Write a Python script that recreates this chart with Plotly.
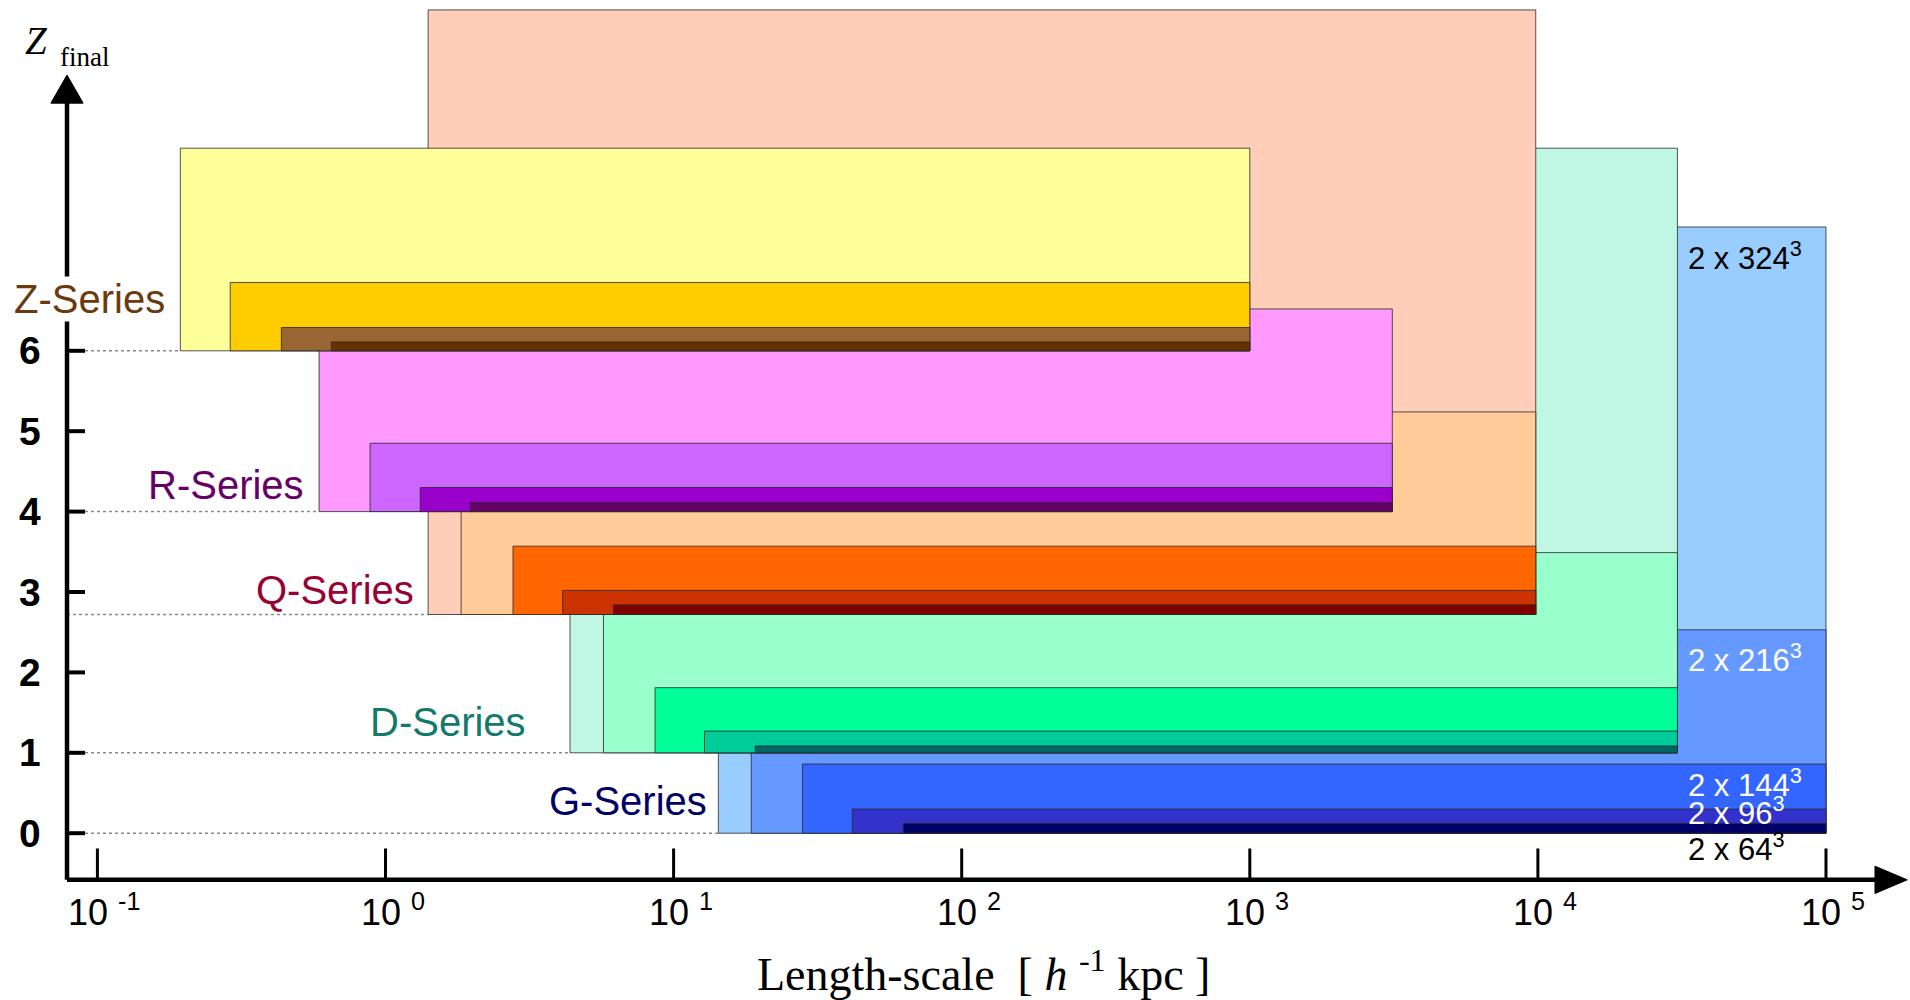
import math
import plotly.graph_objects as go

# ---------------- data ----------------
# Each series: boxes from largest (2x324^3) to smallest (2x64^3)
series_names = ["G-Series", "D-Series", "Q-Series", "R-Series", "Z-Series"]
z_final = [0.0, 1.0, 2.72, 4.0, 6.0]          # bottom of every box in a series
box_right = [100000, 30500, 9830, 3124, 1000]  # right edge [h^-1 kpc]

g_left = [14.3, 18.6, 28.0, 41.7, 62.7]
g_top = [7.54, 2.53, 0.86, 0.30, 0.12]
d_left = [4.37, 5.71, 8.62, 12.8, 19.2]
d_top = [8.52, 3.49, 1.81, 1.27, 1.085]
q_left = [1.406, 1.83, 2.77, 4.12, 6.18]
q_top = [10.24, 5.24, 3.57, 3.02, 2.84]
r_left = [0.588, 0.884, 1.32, 1.97]
r_top = [6.52, 4.85, 4.30, 4.11]
zs_left = [0.194, 0.289, 0.435, 0.649]
zs_top = [8.52, 6.85, 6.29, 6.11]

g_colors = ["#99CCFF", "#6699FF", "#3366FF", "#3333CC", "#000066"]
d_colors = ["#C0F7E4", "#99FFCC", "#00FF99", "#00CC99", "#006666"]
q_colors = ["#FFCDB8", "#FFCC99", "#FF6600", "#CC3300", "#800000"]
r_colors = ["#FF99FF", "#CC66FF", "#9900CC", "#660066"]
zs_colors = ["#FFFF99", "#FFCC00", "#996633", "#663300"]

series_label_colors = ["#000066", "#137A6B", "#990033", "#660066", "#6B3A0E"]

res_labels = ["2 x 324<sup>3</sup>", "2 x 216<sup>3</sup>", "2 x 144<sup>3</sup>",
              "2 x 96<sup>3</sup>", "2 x 64<sup>3</sup>"]
res_label_z = [7.18, 2.18, 0.63, 0.27, -0.17]
res_label_colors = ["black", "white", "white", "white", "black"]

x_tick_vals = [0.1, 1, 10, 100, 1000, 1e4, 1e5]
x_tick_text = ["10 <sup>-1</sup>", "10 <sup>0</sup>", "10 <sup>1</sup>", "10 <sup>2</sup>",
               "10 <sup>3</sup>", "10 <sup>4</sup>", "10 <sup>5</sup>"]
y_tick_vals = [0, 1, 2, 3, 4, 5, 6]

# ---------------- layout constants ----------------
XR = [-1.3381, 5.2916]
YR = [-2.0746, 10.3632]
y_axis_x = 10 ** -1.1055      # where the vertical axis sits
x_axis_z = -0.58              # where the horizontal axis sits
SANS = "Liberation Sans, Arial, sans-serif"
SERIF = "Liberation Serif, Times New Roman, serif"

fig = go.Figure()


def add_rect(x0, x1, y0, y1, color):
    fig.add_trace(go.Scatter(
        x=[x0, x1, x1, x0, x0], y=[y0, y0, y1, y1, y0],
        mode="lines", fill="toself", fillcolor=color,
        line=dict(color="rgba(40,40,40,0.8)", width=1),
        hoverinfo="skip", showlegend=False))


all_left = [g_left, d_left, q_left, r_left, zs_left]
all_top = [g_top, d_top, q_top, r_top, zs_top]
all_colors = [g_colors, d_colors, q_colors, r_colors, zs_colors]

# dotted guide lines (drawn first)
for i in range(5):
    start = y_axis_x if abs(z_final[i] - round(z_final[i])) > 1e-6 else 10 ** -1.043
    fig.add_trace(go.Scatter(
        x=[start, all_left[i][0]], y=[z_final[i], z_final[i]], mode="lines",
        line=dict(color="#8a8a8a", width=1.5, dash="3px,3px"),
        hoverinfo="skip", showlegend=False))

# boxes: G at the back, Z in front; largest box first inside each series
for i in range(5):
    for left, top, col in zip(all_left[i], all_top[i], all_colors[i]):
        add_rect(left, box_right[i], z_final[i], top, col)

# axes lines
fig.add_trace(go.Scatter(x=[y_axis_x, y_axis_x], y=[x_axis_z, 9.15], mode="lines",
                         line=dict(color="black", width=4.5), hoverinfo="skip", showlegend=False))
fig.add_trace(go.Scatter(x=[y_axis_x, 10 ** 5.20], y=[x_axis_z, x_axis_z], mode="lines",
                         line=dict(color="black", width=4.5), hoverinfo="skip", showlegend=False))
# arrow heads
hw = 0.056
fig.add_trace(go.Scatter(
    x=[10 ** (-1.1055 - hw), 10 ** (-1.1055 + hw), y_axis_x, 10 ** (-1.1055 - hw)],
    y=[9.08, 9.08, 9.43, 9.08], mode="lines", fill="toself", fillcolor="black",
    line=dict(color="black", width=1), hoverinfo="skip", showlegend=False))
fig.add_trace(go.Scatter(
    x=[10 ** 5.17, 10 ** 5.282, 10 ** 5.17, 10 ** 5.17],
    y=[x_axis_z - 0.17, x_axis_z, x_axis_z + 0.17, x_axis_z - 0.17], mode="lines",
    fill="toself", fillcolor="black", line=dict(color="black", width=1),
    hoverinfo="skip", showlegend=False))

# x ticks (pointing up)
for v in x_tick_vals:
    fig.add_trace(go.Scatter(x=[v, v], y=[x_axis_z, x_axis_z + 0.39], mode="lines",
                             line=dict(color="black", width=3), hoverinfo="skip", showlegend=False))
# y ticks (pointing right)
for v in y_tick_vals:
    fig.add_trace(go.Scatter(x=[y_axis_x, 10 ** -1.043], y=[v, v], mode="lines",
                             line=dict(color="black", width=4), hoverinfo="skip", showlegend=False))

annotations = []
for v, t in zip(x_tick_vals, x_tick_text):
    annotations.append(dict(x=math.log10(v), y=-0.96, text=t, showarrow=False,
                            xanchor="center", yanchor="middle", xshift=7,
                            font=dict(family=SANS, size=36, color="black")))
for v in y_tick_vals:
    annotations.append(dict(x=-1.234, y=v, text="<b>%d</b>" % v, showarrow=False,
                            xanchor="center", yanchor="middle",
                            font=dict(family=SANS, size=39, color="black")))

series_label_pos = [(1.119, 0.40), (0.491, 1.38), (0.102, 3.02), (-0.279, 4.33), (-0.762, 6.64)]
for name, (lx, lz), col in zip(series_names, series_label_pos, series_label_colors):
    annotations.append(dict(x=lx, y=lz, text=name, showarrow=False,
                            xanchor="right", yanchor="middle",
                            bgcolor="white" if name == "Z-Series" else None,
                            borderpad=0,
                            font=dict(family=SANS, size=40, color=col)))

for t, z, c in zip(res_labels, res_label_z, res_label_colors):
    annotations.append(dict(x=4.514, y=z, text=t, showarrow=False,
                            xanchor="left", yanchor="middle",
                            font=dict(family=SANS, size=31, color=c)))

annotations.append(dict(x=2.074, y=-1.72, text="Length-scale  [ <i>h</i> <sup>-1</sup> kpc ]",
                        showarrow=False, xanchor="center", yanchor="middle",
                        font=dict(family=SERIF, size=46, color="black")))
# y-axis title: italic Z with a lowered "final"
annotations.append(dict(x=-1.2582, y=9.86, text="<i>Z</i>",
                        showarrow=False, xanchor="left", yanchor="middle",
                        font=dict(family=SERIF, size=39, color="black")))
annotations.append(dict(x=-1.1368, y=9.65, text="final",
                        showarrow=False, xanchor="left", yanchor="middle",
                        font=dict(family=SERIF, size=27, color="black")))

fig.update_layout(
    width=1910, height=1000,
    margin=dict(l=0, r=0, t=0, b=0),
    paper_bgcolor="white", plot_bgcolor="white",
    xaxis=dict(type="log", range=XR, visible=False, fixedrange=True),
    yaxis=dict(range=YR, visible=False, fixedrange=True),
    showlegend=False, hovermode=False,
    annotations=annotations,
)

fig.write_html("out.html")
